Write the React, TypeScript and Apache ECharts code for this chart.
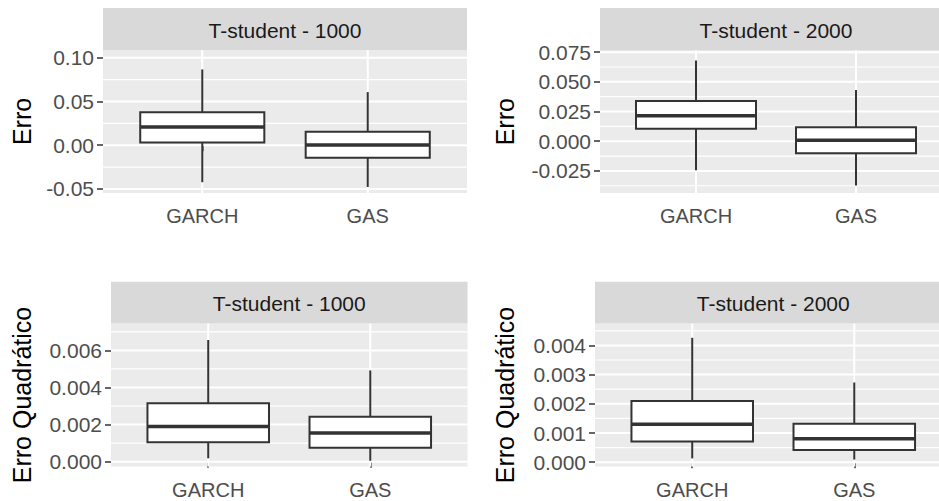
import React, { useEffect, useRef } from "react";
import * as echarts from "echarts";

// Categories on every panel's x axis
const categories = ["GARCH", "GAS"];

// Facet strip titles and y-axis titles
const stripTitles = ["T-student - 1000", "T-student - 2000", "T-student - 1000", "T-student - 2000"];
const yTitles = ["Erro", "Erro", "Erro Quadrático", "Erro Quadrático"];

// Box statistics per category: [lower whisker, Q1, median, Q3, upper whisker]
const erro1000 = [
  [-0.0423, 0.003, 0.0208, 0.0377, 0.0866],
  [-0.0477, -0.0143, 0.0003, 0.0154, 0.0607],
];
const erro2000 = [
  [-0.0244, 0.0106, 0.0214, 0.0338, 0.0679],
  [-0.0373, -0.0101, 0.0008, 0.0118, 0.0432],
];
const quad1000 = [
  [0.00018, 0.00105, 0.0019, 0.00315, 0.00656],
  [0.00005, 0.00075, 0.00155, 0.00242, 0.00492],
];
const quad2000 = [
  [0.00013, 0.00071, 0.0013, 0.0021, 0.00426],
  [0.00009, 0.00042, 0.0008, 0.00132, 0.00273],
];

// Y tick labels (major breaks) and the minor breaks between them
const majors1 = [-0.05, 0, 0.05, 0.1];
const minors1 = [-0.025, 0.025, 0.075];
const majors2 = [-0.025, 0, 0.025, 0.05, 0.075];
const minors2 = [-0.0375, -0.0125, 0.0125, 0.0375, 0.0625];
const majors3 = [0, 0.002, 0.004, 0.006];
const minors3 = [0.001, 0.003, 0.005, 0.007];
const majors4 = [0, 0.001, 0.002, 0.003, 0.004];
const minors4 = [0.0005, 0.0015, 0.0025, 0.0035, 0.0045];

// Y ranges of the panels
const yRanges = [
  [-0.0546, 0.1088],
  [-0.0436, 0.0764],
  [-0.00026, 0.00745],
  [-0.000147, 0.00475],
];
const decimals = [2, 3, 3, 3];

const panelStats = [erro1000, erro2000, quad1000, quad2000];
const panelMajors = [majors1, majors2, majors3, majors4];
const panelMinors = [minors1, minors2, minors3, minors4];

// Panel geometry (px)
const layout = [
  { left: 103, top: 50, width: 364, height: 143, stripTop: 8, nameGap: 69 },
  { left: 600, top: 50.5, width: 352, height: 142.5, stripTop: 8, nameGap: 83 },
  { left: 111, top: 323.5, width: 356.5, height: 143, stripTop: 281.7, nameGap: 77 },
  { left: 595, top: 323.5, width: 356.5, height: 143, stripTop: 281.7, nameGap: 78 },
];

const FONT = "'Liberation Sans', Arial, sans-serif";
const BOX_WIDTH = 0.75;
const INK = "#333333";

export default function App() {
  const ref = useRef<HTMLDivElement>(null);

  useEffect(() => {
    if (!ref.current) return;
    const chart = echarts.init(ref.current, null, { renderer: "svg" });

    const grids: any[] = [];
    const xAxes: any[] = [];
    const yAxes: any[] = [];
    const series: any[] = [];
    const graphics: any[] = [];

    layout.forEach((g, i) => {
      grids.push({
        left: g.left,
        top: g.top,
        width: g.width,
        height: g.height,
        show: true,
        backgroundColor: "#EBEBEB",
        borderWidth: 0,
        containLabel: false,
      });

      xAxes.push({
        gridIndex: i,
        type: "value",
        min: 0.4,
        max: 2.6,
        axisLine: { show: false },
        splitLine: { show: false },
        axisTick: {
          show: true,
          length: 6,
          customValues: [1, 2],
          lineStyle: { color: INK, width: 1.5 },
        },
        axisLabel: {
          customValues: [1, 2],
          formatter: (v: number) => categories[Math.round(v) - 1] ?? "",
          color: "#4D4D4D",
          fontSize: 20,
          fontFamily: FONT,
          margin: 13,
        },
      });

      const dec = decimals[i];
      yAxes.push({
        gridIndex: i,
        type: "value",
        min: yRanges[i][0],
        max: yRanges[i][1],
        name: yTitles[i],
        nameLocation: "middle",
        nameRotate: 90,
        nameGap: g.nameGap,
        nameTextStyle: { color: "#000000", fontSize: 25, fontFamily: FONT },
        axisLine: { show: false },
        splitLine: { show: false },
        axisTick: {
          show: true,
          length: 6,
          customValues: panelMajors[i],
          lineStyle: { color: INK, width: 1.5 },
        },
        axisLabel: {
          customValues: panelMajors[i],
          formatter: (v: number) => v.toFixed(dec),
          color: "#4D4D4D",
          fontSize: 21,
          fontFamily: FONT,
          margin: 9,
        },
      });

      // White horizontal grid lines (major thick, minor thin)
      const hData = [
        ...panelMajors[i].map((v) => [1.5, v, 2]),
        ...panelMinors[i].map((v) => [1.5, v, 1.2]),
      ];
      series.push({
        type: "custom",
        xAxisIndex: i,
        yAxisIndex: i,
        z: 1,
        silent: true,
        data: hData,
        encode: { x: 0, y: 1 },
        renderItem: (params: any, api: any) => {
          const cs = params.coordSys;
          const y = api.coord([1.5, api.value(1)])[1];
          return {
            type: "line",
            shape: { x1: cs.x, y1: y, x2: cs.x + cs.width, y2: y },
            style: { stroke: "#FFFFFF", lineWidth: api.value(2) },
          };
        },
      });

      // White vertical grid lines at the categories
      series.push({
        type: "custom",
        xAxisIndex: i,
        yAxisIndex: i,
        z: 1,
        silent: true,
        data: categories.map((_, k) => [k + 1, yRanges[i][0]]),
        encode: { x: 0, y: 1 },
        renderItem: (params: any, api: any) => {
          const cs = params.coordSys;
          const x = api.coord([api.value(0), yRanges[i][0]])[0];
          return {
            type: "line",
            shape: { x1: x, y1: cs.y, x2: x, y2: cs.y + cs.height },
            style: { stroke: "#FFFFFF", lineWidth: 2 },
          };
        },
      });

      // Box plots
      series.push({
        type: "custom",
        xAxisIndex: i,
        yAxisIndex: i,
        z: 3,
        silent: true,
        data: panelStats[i].map((s, k) => [k + 1, ...s]),
        encode: { x: 0, y: [1, 2, 3, 4, 5] },
        renderItem: (_params: any, api: any) => {
          const x = api.value(0);
          const p = (v: number) => api.coord([x, v]);
          const [cx, yLo] = p(api.value(1));
          const yQ1 = p(api.value(2))[1];
          const yMed = p(api.value(3))[1];
          const yQ3 = p(api.value(4))[1];
          const yHi = p(api.value(5))[1];
          const half = api.size([BOX_WIDTH, 0])[0] / 2;
          return {
            type: "group",
            children: [
              {
                type: "line",
                shape: { x1: cx, y1: yLo, x2: cx, y2: yQ1 },
                style: { stroke: INK, lineWidth: 2 },
              },
              {
                type: "line",
                shape: { x1: cx, y1: yQ3, x2: cx, y2: yHi },
                style: { stroke: INK, lineWidth: 2 },
              },
              {
                type: "rect",
                shape: { x: cx - half, y: yQ3, width: half * 2, height: yQ1 - yQ3 },
                style: { fill: "#FFFFFF", stroke: INK, lineWidth: 2 },
              },
              {
                type: "line",
                shape: { x1: cx - half, y1: yMed, x2: cx + half, y2: yMed },
                style: { stroke: INK, lineWidth: 3.5 },
              },
            ],
          };
        },
      });

      // Facet strip
      const stripH = g.top - g.stripTop;
      graphics.push({
        type: "rect",
        left: g.left,
        top: g.stripTop,
        shape: { x: 0, y: 0, width: g.width, height: stripH },
        style: { fill: "#D9D9D9" },
        silent: true,
        z: 0,
      });
      graphics.push({
        type: "text",
        x: g.left + g.width / 2,
        y: g.stripTop + stripH / 2 + 1,
        style: {
          text: stripTitles[i],
          fill: "#1A1A1A",
          fontSize: 21,
          fontFamily: FONT,
          align: "center",
          verticalAlign: "middle",
        },
        silent: true,
        z: 1,
      });
    });

    chart.setOption({
      animation: false,
      backgroundColor: "#FFFFFF",
      grid: grids,
      xAxis: xAxes,
      yAxis: yAxes,
      series,
      graphic: graphics,
    });

    return () => chart.dispose();
  }, []);

  return (
    <div
      style={{
        position: "fixed",
        left: 0,
        top: 0,
        width: 939,
        height: 501,
        overflow: "hidden",
        background: "#FFFFFF",
      }}
    >
      <div ref={ref} style={{ width: 960, height: 501 }} />
    </div>
  );
}
